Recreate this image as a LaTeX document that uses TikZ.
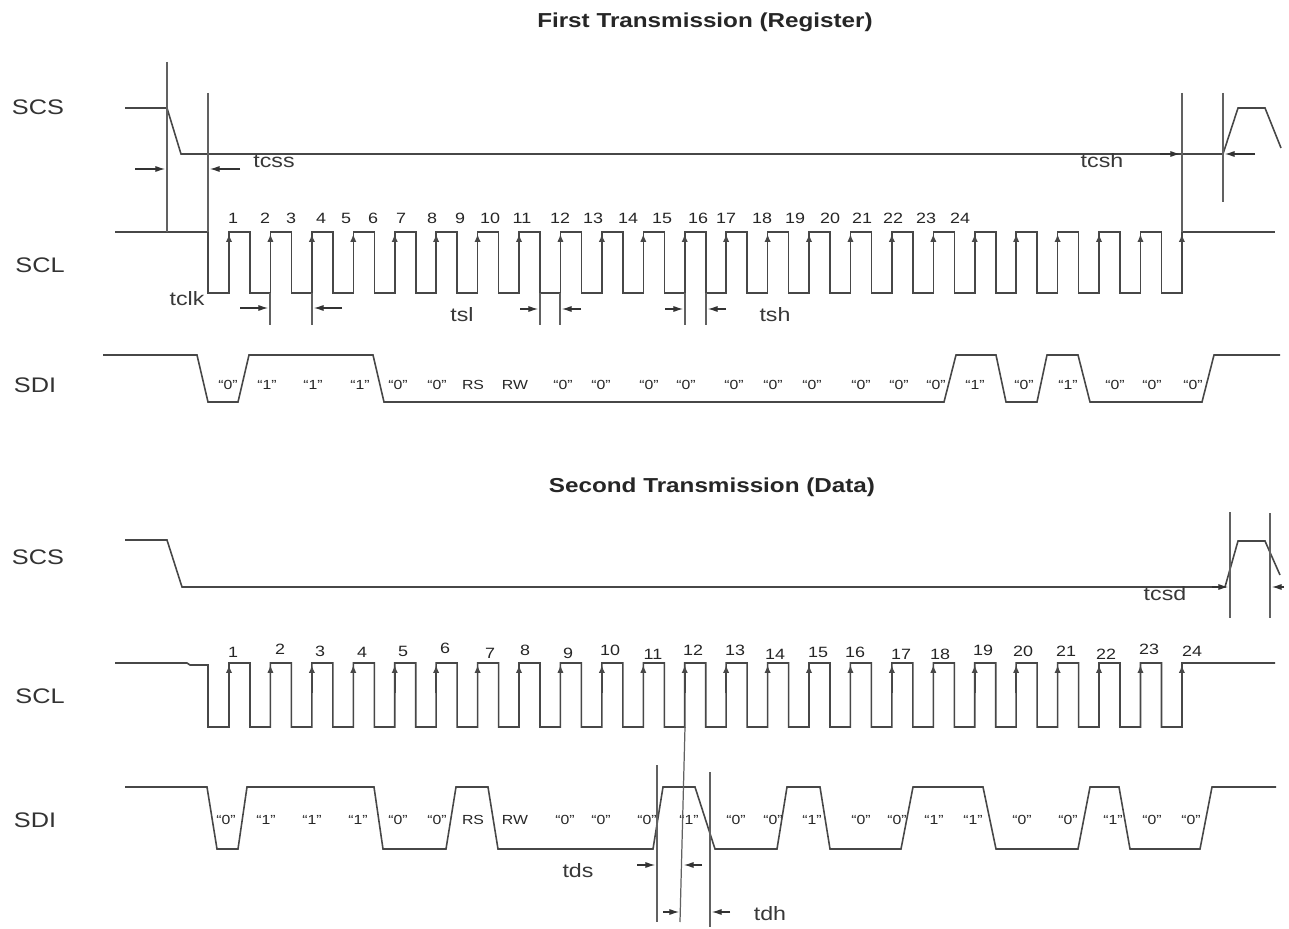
\documentclass[tikz,border=0pt]{standalone}
\usepackage{fontspec}
\setmainfont{Liberation Sans}
\usetikzlibrary{arrows.meta,positioning}

\begin{document}
\begin{tikzpicture}[x=0.02cm,y=-0.02cm,
    wave/.style={draw=black!72,line width=0.9pt},
    guide/.style={draw=black!62,line width=0.7pt},
    dimarrow/.style={draw=black!80,line width=0.6pt,-{Latex[length=5.5pt,width=3.5pt]}},
    edgetip/.style={draw=black!72,line width=0.9pt,-{Latex[length=4.5pt,width=3.6pt]}},
    ttl/.style={font=\bfseries\fontsize{11.5}{14}\selectfont,xscale=1.2,text=black!85},
    sig/.style={font=\fontsize{12}{14}\selectfont,xscale=1.2,text=black!80},
    tlbl/.style={font=\fontsize{11}{13}\selectfont,xscale=1.2,text=black!78},
    num/.style={font=\fontsize{8.5}{10}\selectfont,xscale=1.2,inner sep=1pt,text=black!85},
    bit/.style={font=\fontsize{7.5}{9}\selectfont,xscale=1.2,inner sep=1pt,text=black!85}]
    \fill[white] (0,0) rectangle (1289,929);
    \useasboundingbox (0,0) rectangle (1289,929);

    \node[ttl] (title1) at (705,22) {First Transmission (Register)};
    \node[ttl] (title2) at (712,487) {Second Transmission (Data)};
    \node[sig] (scs1) at (38,107) {SCS};
    \node[sig] (scl1) at (40,265) {SCL};
    \node[sig] (sdi1) at (35,385) {SDI};
    \node[sig] (scs2) at (38,557) {SCS};
    \node[sig] (scl2) at (40,696) {SCL};
    \node[sig] (sdi2) at (35,820) {SDI};

    % first transmission
    \draw[wave] (125,108) -- (167,108) -- (181,154) -- (1223,154);
    \draw[wave] (1223,154) -- (1238,108) -- (1265,108) -- (1281,148);
    \draw[wave] (115,232) -- (208,232) -- (208,293)
        \foreach \k in {0,...,22} { -- ({229+41.43*\k},293) -- ({229+41.43*\k},232) -- ({250+41.43*\k},232) -- ({250+41.43*\k},293) }
        -- (1182,293) -- (1182,232) -- (1275,232);
    \draw[wave] (103,355) -- (197,355) -- (208,402) -- (238,402) -- (249,355) -- (373,355) -- (384,402)
        -- (944,402) -- (956,355) -- (996,355) -- (1006,402) -- (1037,402) -- (1047,355) -- (1078,355)
        -- (1090,402) -- (1202,402) -- (1214,355) -- (1280,355);
    \foreach \x [count=\n] in {233,265,291,321,346,373,401,432,460,490,522,560,593,628,662,698,726,762,795,830,862,893,926,960}
        \node[num] (ca\n) at (\x,218) {\n};
    \foreach \x/\b [count=\n] in {228/“0”,267/“1”,313/“1”,360/“1”,398/“0”,437/“0”,473/RS,515/RW,563/“0”,601/“0”,649/“0”,686/“0”,
        734/“0”,773/“0”,812/“0”,861/“0”,899/“0”,936/“0”,975/“1”,1024/“0”,1068/“1”,1115/“0”,1152/“0”,1193/“0”}
        \node[bit] (da\n) at (\x,385) {\b};

    \draw[guide] (167,62) -- (167,232);
    \draw[guide] (208,93) -- (208,232);
    \draw[guide] (270,293) -- (270,325);
    \draw[guide] (312,293) -- (312,325);
    \draw[guide] (540,293) -- (540,325);
    \draw[guide] (560,293) -- (560,325);
    \draw[guide] (685,293) -- (685,325);
    \draw[guide] (706,293) -- (706,325);
    \draw[guide] (1182,93) -- (1182,232);
    \draw[guide] (1223,93) -- (1223,202);

    \draw[dimarrow] (135,169) -- (165,169);
    \draw[dimarrow] (240,169) -- (210,169);
    \node[tlbl] (tcss) at (274,161) {tcss};
    \draw[dimarrow] (240,308) -- (268,308);
    \draw[dimarrow] (342,308) -- (314,308);
    \node[tlbl] (tclk) at (187,299) {tclk};
    \draw[dimarrow] (520,309) -- (538,309);
    \draw[dimarrow] (581,309) -- (562,309);
    \node[tlbl] (tsl) at (462,315) {tsl};
    \draw[dimarrow] (665,309) -- (683,309);
    \draw[dimarrow] (726,309) -- (708,309);
    \node[tlbl] (tsh) at (775,315) {tsh};
    \draw[dimarrow] (1160,154) -- (1180,154);
    \draw[dimarrow] (1255,154) -- (1225,154);
    \node[tlbl] (tcsh) at (1102,161) {tcsh};

    % second transmission
    \draw[wave] (125,540) -- (167,540) -- (182,587) -- (1225,587) -- (1238,541) -- (1265,541) -- (1280,575);
    \draw[wave] (115,663) -- (187,663) -- (190,665) -- (208,665) -- (208,727)
        \foreach \k in {0,...,22} { -- ({229+41.43*\k},727) -- ({229+41.43*\k},663) -- ({250+41.43*\k},663) -- ({250+41.43*\k},727) }
        -- (1182,727) -- (1182,663) -- (1275,663);
    \draw[wave] (125,787) -- (207,787) -- (217,849) -- (238,849) -- (247,787) -- (374,787) -- (383,849)
        -- (446,849) -- (456,787) -- (488,787) -- (498,849) -- (653,849) -- (663,787) -- (695,787)
        -- (715,849) -- (777,849) -- (787,787) -- (820,787) -- (830,849) -- (901,849) -- (913,787)
        -- (983,787) -- (996,849) -- (1078,849) -- (1090,787) -- (1119,787) -- (1130,849) -- (1200,849)
        -- (1212,787) -- (1276,787);
    \foreach \x/\y [count=\n] in {233/652,280/649,320/651,362/652,403/651,445/648,490/653,525/650,568/653,610/650,653/654,693/650,
        735/650,775/654,818/652,855/652,901/654,940/654,983/650,1023/651,1066/651,1106/654,1149/649,1192/651}
        \node[num] (cb\n) at (\x,\y) {\n};
    \foreach \x/\b [count=\n] in {226/“0”,266/“1”,312/“1”,358/“1”,398/“0”,437/“0”,473/RS,515/RW,565/“0”,601/“0”,647/“0”,689/“1”,
        736/“0”,773/“0”,812/“1”,861/“0”,897/“0”,934/“1”,973/“1”,1022/“0”,1068/“0”,1113/“1”,1152/“0”,1191/“0”}
        \node[bit] (db\n) at (\x,820) {\b};

    \foreach \k in {0,...,23} {
        \draw[edgetip] ({229+41.43*\k},262) -- ({229+41.43*\k},234);
        \draw[edgetip] ({229+41.43*\k},693) -- ({229+41.43*\k},665);
    }

    \draw[guide] (1230,512) -- (1230,618);
    \draw[guide] (1270,513) -- (1270,618);
    \draw[dimarrow] (1212,587) -- (1228,587);
    \draw[dimarrow] (1284,587) -- (1272,587);
    \node[tlbl] (tcsd) at (1165,594) {tcsd};

    \draw[guide] (685,727) -- (680,922);
    \draw[guide] (657,765) -- (657,922);
    \draw[guide] (710,772) -- (710,927);
    \draw[dimarrow] (637,865) -- (655,865);
    \draw[dimarrow] (702,865) -- (684,865);
    \node[tlbl] (tds) at (578,871) {tds};
    \draw[dimarrow] (663,912) -- (679,912);
    \draw[dimarrow] (730,912) -- (712,912);
    \node[tlbl] (tdh) at (770,914) {tdh};
\end{tikzpicture}
\end{document}
